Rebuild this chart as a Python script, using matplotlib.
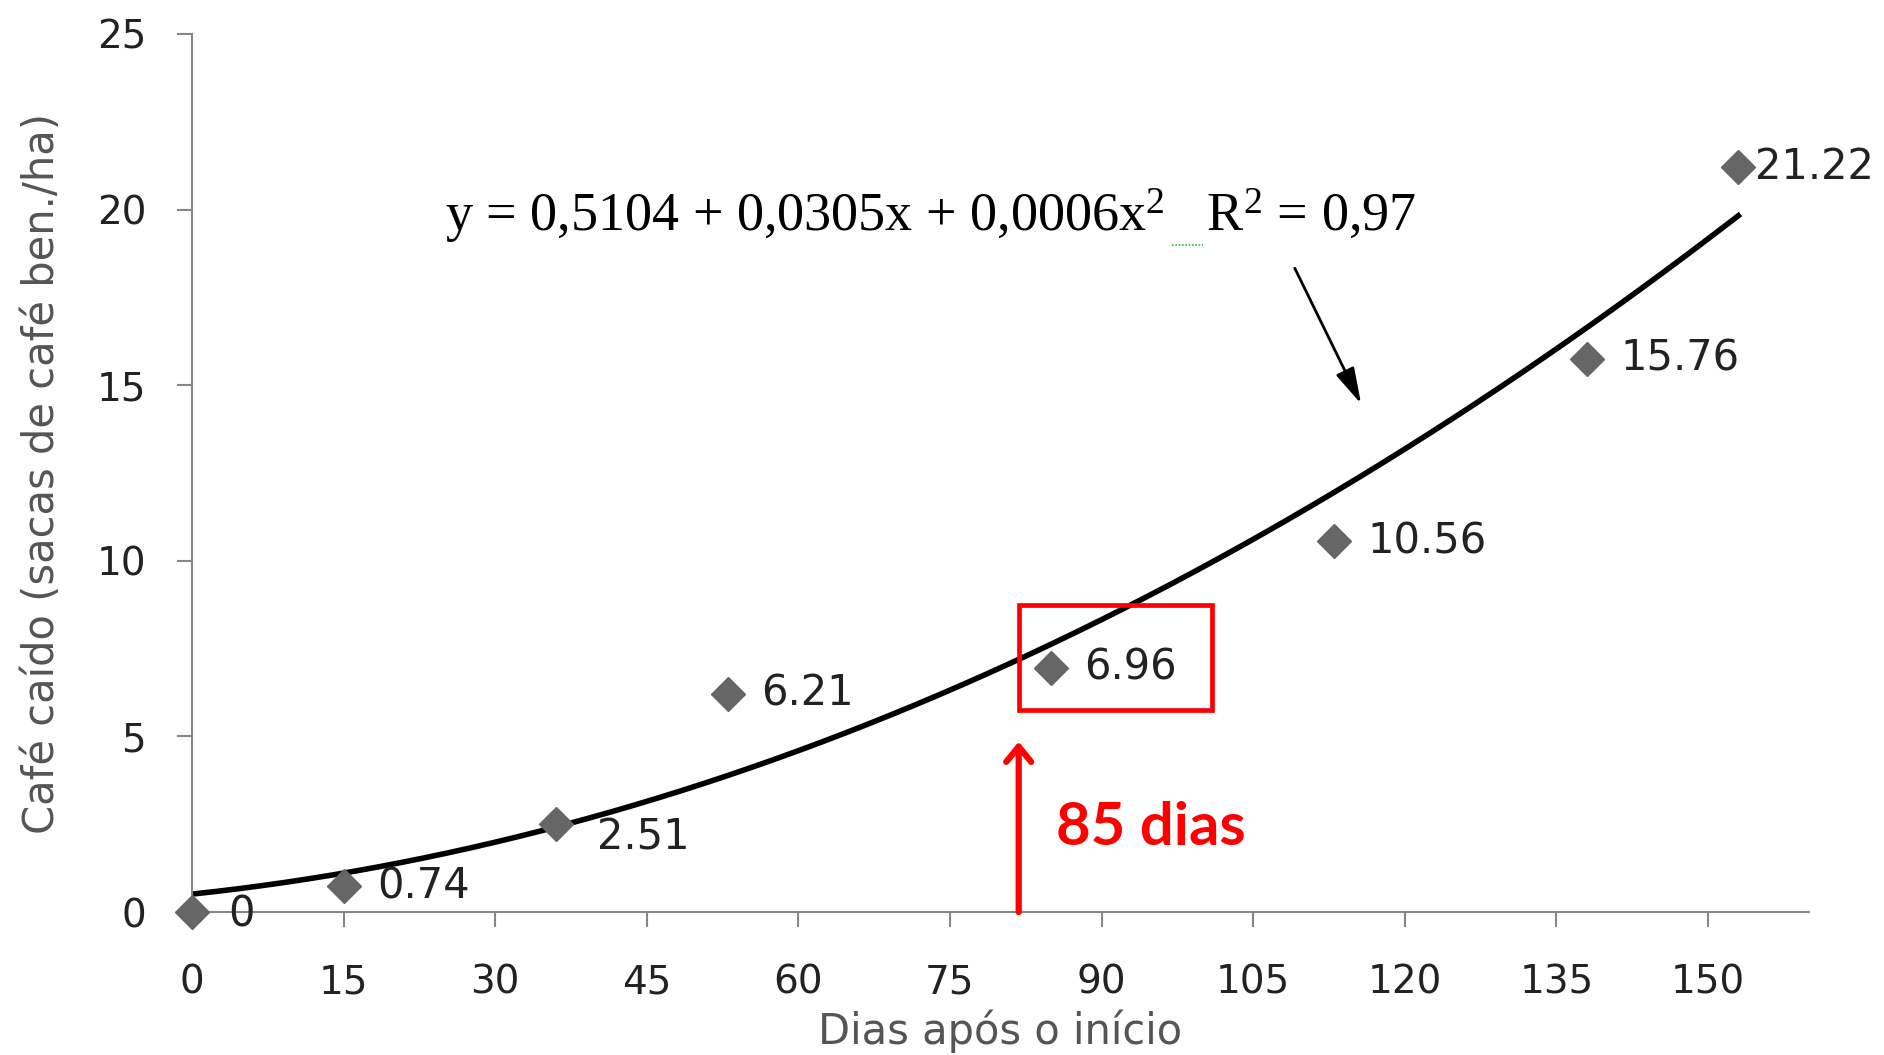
import numpy as np
import matplotlib.pyplot as plt

plt.rcParams['mathtext.fontset'] = 'custom'
plt.rcParams['mathtext.rm'] = 'Liberation Serif'
plt.rcParams['mathtext.it'] = 'Liberation Serif'

# dados
dias = [0, 15, 36, 53, 85, 113, 138, 153]
cafe = [0, 0.74, 2.51, 6.21, 6.96, 10.56, 15.76, 21.22]
rotulos = ['0', '0.74', '2.51', '6.21', '6.96', '10.56', '15.76', '21.22']
xticks = [0, 15, 30, 45, 60, 75, 90, 105, 120, 135, 150]
yticks = [0, 5, 10, 15, 20, 25]

# offsets of the data labels (points)
off = [(26, -2), (24, 0), (30, -10), (24, 0), (24, 0), (24, 0), (24, 0), (12, 0)]

# quadratic trend line (fitted to the data)
coef = np.polyfit(dias, cafe, 2)
xs = np.linspace(0, dias[-1], 200)
ys = np.polyval(coef, xs)

fig = plt.figure(figsize=(18.84, 10.55), dpi=100)
ax = fig.add_axes([0.1019, 0.1355, 0.8583, 0.8323])

ax.plot(xs, ys, color='black', lw=4, zorder=2)
ax.plot(dias, cafe, 'D', color='#666666', ms=17, zorder=3, clip_on=False)
for x, y, t, o in zip(dias, cafe, rotulos, off):
    ax.annotate(t, (x, y), xytext=o, textcoords='offset points',
                ha='left', va='center', fontsize=30, color='#222222')

ax.set_xlim(0, 160)
ax.set_ylim(0, 25)
ax.set_xticks(xticks)
ax.set_yticks(yticks)
ax.tick_params(labelsize=28, colors='#868686', labelcolor='#222222',
               length=11, width=1.5, pad=22)
ax.tick_params(axis='x', pad=26)
for s in ['top', 'right']:
    ax.spines[s].set_visible(False)
for s in ['left', 'bottom']:
    ax.spines[s].set_color('#868686')
    ax.spines[s].set_linewidth(1.5)
ax.spines['bottom'].set_zorder(1)

ax.set_xlabel('Dias após o início', fontsize=30, color='#555555', labelpad=6)
ax.set_ylabel('Café caído (sacas de café ben./ha)', fontsize=30,
              color='#555555', labelpad=24)

# equation
ax.text(25, 19.4, r'y = 0,5104 + 0,0305x + 0,0006x$^{\mathregular{2}}$   R$^{\mathregular{2}}$ = 0,97',
        family='Liberation Serif', fontsize=39, color='black',
        ha='left', va='baseline')
ax.plot([97, 100], [19.0, 19.0], color='#3cb043', lw=1.2, ls=(0, (1, 1)))
ax.annotate('', xy=(115.8, 14.4), xytext=(109, 18.4),
            arrowprops=dict(arrowstyle='-|>,head_length=2.2,head_width=0.6',
                            color='black', lw=2))

# destaque em vermelho
ax.add_patch(plt.Rectangle((81.8, 5.75), 19.1, 3.0, fill=False,
                           edgecolor='red', lw=3.4, zorder=4))
ax.annotate('', xy=(81.8, 4.85), xytext=(81.8, 0),
            arrowprops=dict(arrowstyle='->,head_length=1.1,head_width=0.9',
                            color='red', lw=4.5, shrinkA=0, shrinkB=0))
ax.text(85.5, 2.4, '85 dias', family='Lato', fontweight='bold', fontsize=43,
        color='red', ha='left', va='center')

fig.savefig('out.png', dpi=100)
